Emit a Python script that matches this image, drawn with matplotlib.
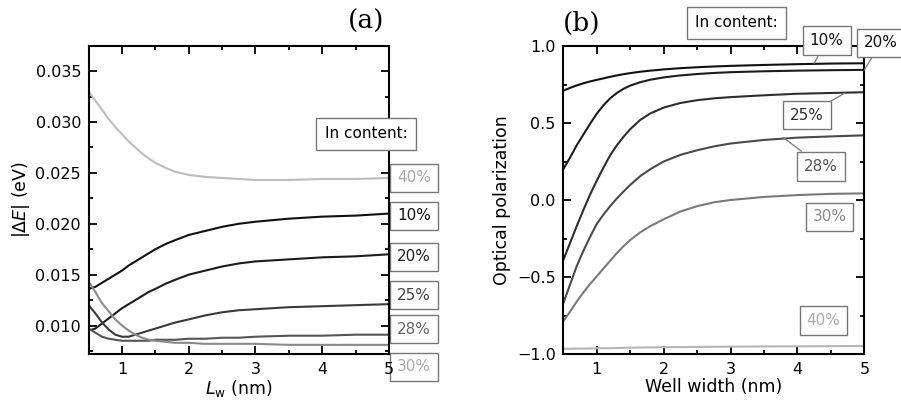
import matplotlib
matplotlib.use('Agg')
import matplotlib.pyplot as plt
from matplotlib.ticker import MultipleLocator

plt.rcParams['font.family'] = ['DejaVu Sans']
plt.rcParams['mathtext.fontset'] = 'dejavusans'

# well width grid (nm), shared by both panels
well_width = [0.5, 0.6, 0.7, 0.8, 0.9, 1.0, 1.1, 1.2, 1.3, 1.4, 1.5, 1.65, 1.8, 2.0,
              2.25, 2.5, 2.75, 3.0, 3.5, 4.0, 4.5, 5.0]

# (a) |dE| (eV), one list per In content
de_10 = [0.0136, 0.0138, 0.0142, 0.0146, 0.0150, 0.0154, 0.0159, 0.0163, 0.0167, 0.0171, 0.0175,
         0.0180, 0.0184, 0.0189, 0.0193, 0.0197, 0.0200, 0.0202, 0.0205, 0.0207, 0.0208, 0.0210]
de_20 = [0.0095, 0.0097, 0.0102, 0.0107, 0.0112, 0.0117, 0.0121, 0.0125, 0.0129, 0.0133, 0.0136,
         0.0141, 0.0145, 0.0150, 0.0154, 0.0158, 0.0161, 0.0163, 0.0165, 0.0167, 0.0168, 0.0170]
de_25 = [0.0120, 0.0112, 0.0103, 0.0096, 0.0091, 0.0089, 0.0089, 0.0091, 0.0093, 0.0095, 0.0097,
         0.0100, 0.0103, 0.0106, 0.0110, 0.0113, 0.0115, 0.0116, 0.0118, 0.0119, 0.0120, 0.0121]
de_28 = [0.0097, 0.0093, 0.0089, 0.0087, 0.0086, 0.0085, 0.0085, 0.0085, 0.0085, 0.0085, 0.0086,
         0.0086, 0.0086, 0.0087, 0.0087, 0.0088, 0.0088, 0.0089, 0.0090, 0.0090, 0.0091, 0.0091]
de_30 = [0.0143, 0.0133, 0.0122, 0.0114, 0.0106, 0.0100, 0.0095, 0.0091, 0.0088, 0.0086, 0.0085,
         0.0084, 0.0083, 0.0083, 0.0082, 0.0082, 0.0082, 0.0082, 0.0081, 0.0081, 0.0081, 0.0081]
de_40 = [0.0330, 0.0321, 0.0312, 0.0303, 0.0295, 0.0288, 0.0281, 0.0275, 0.0269, 0.0264, 0.0260,
         0.0255, 0.0251, 0.0248, 0.0246, 0.0245, 0.0244, 0.0243, 0.0243, 0.0244, 0.0244, 0.0245]

# (b) optical polarization
pol_10 = [0.710, 0.728, 0.744, 0.758, 0.770, 0.780, 0.790, 0.800, 0.809, 0.817, 0.824,
          0.833, 0.840, 0.848, 0.856, 0.862, 0.867, 0.871, 0.877, 0.882, 0.886, 0.888]
pol_20 = [0.200, 0.275, 0.355, 0.425, 0.495, 0.560, 0.615, 0.660, 0.695, 0.722, 0.743,
          0.765, 0.781, 0.796, 0.809, 0.818, 0.825, 0.830, 0.836, 0.840, 0.843, 0.845]
pol_25 = [-0.390, -0.280, -0.170, -0.065, 0.035, 0.125, 0.210, 0.290, 0.355, 0.410, 0.460,
          0.520, 0.562, 0.600, 0.630, 0.648, 0.660, 0.668, 0.680, 0.690, 0.695, 0.700]
pol_28 = [-0.670, -0.550, -0.430, -0.330, -0.240, -0.155, -0.095, -0.040, 0.010, 0.055, 0.098,
          0.155, 0.200, 0.250, 0.293, 0.323, 0.348, 0.367, 0.390, 0.405, 0.413, 0.420]
pol_30 = [-0.787, -0.725, -0.660, -0.600, -0.545, -0.496, -0.445, -0.395, -0.345, -0.300, -0.260,
          -0.210, -0.170, -0.125, -0.075, -0.040, -0.015, 0.000, 0.020, 0.032, 0.040, 0.043]
pol_40 = [-0.966, -0.966, -0.965, -0.965, -0.964, -0.963, -0.962, -0.962, -0.961, -0.960, -0.959,
          -0.958, -0.957, -0.956, -0.955, -0.954, -0.953, -0.952, -0.951, -0.950, -0.949, -0.948]

labels = ['10%', '20%', '25%', '28%', '30%', '40%']
colors_a = ['#111111', '#1c1c1c', '#3a3a3a', '#555555', '#8a8a8a', '#bdbdbd']
colors_b = ['#111111', '#1c1c1c', '#2e2e2e', '#4a4a4a', '#7a7a7a', '#b5b5b5']
text_a = ['#111111', '#222222', '#444444', '#666666', '#aaaaaa', '#aaaaaa']
text_b = ['#111111', '#111111', '#333333', '#555555', '#888888', '#aaaaaa']

box = dict(boxstyle='square,pad=0.45', fc='white', ec='#777777', lw=1.0)
head_box = dict(boxstyle='square,pad=0.55', fc='white', ec='#777777', lw=1.0)

fig = plt.figure(figsize=(9.01, 4.05), dpi=100)
ax1 = fig.add_axes([0.0984, 0.1259, 0.3333, 0.7613])
ax2 = fig.add_axes([0.6252, 0.1259, 0.3341, 0.7605])


def style(ax):
    for s in ax.spines.values():
        s.set_linewidth(1.5)
    ax.tick_params(which='both', direction='in', top=True, right=True, width=1.3,
                   labelsize=11.5, pad=5.5)
    ax.tick_params(which='major', length=6)
    ax.tick_params(which='minor', length=3)
    ax.xaxis.set_major_locator(MultipleLocator(1))
    ax.xaxis.set_minor_locator(MultipleLocator(0.5))


# panel (a)
for ys, c in zip([de_10, de_20, de_25, de_28, de_30, de_40], colors_a):
    ax1.plot(well_width, ys, color=c, lw=1.5)
ax1.set_xlim(0.5, 5)
ax1.set_ylim(0.0072, 0.0375)
style(ax1)
ax1.yaxis.set_minor_locator(MultipleLocator(0.0025))
ax1.set_yticks([0.010, 0.015, 0.020, 0.025, 0.030, 0.035])
ax1.set_ylabel(r'|$\Delta\mathit{E}$| (eV)', fontsize=12.5, labelpad=2)
ax1.set_xlabel(r'$\mathit{L}_{\mathrm{w}}$ (nm)', fontsize=12.5, labelpad=1)
ax1.text(0.924, 0.714, 'In content:', transform=ax1.transAxes, ha='center', va='center',
         fontsize=11, bbox=head_box)
ya = {'40%': 0.571, '10%': 0.448, '20%': 0.315, '25%': 0.191, '28%': 0.081, '30%': -0.042}
for lab, tc in zip(labels, text_a):
    # below the axis artists so the "5" tick label stays visible
    ax1.text(1.084, ya[lab], lab, transform=ax1.transAxes, ha='center', va='center',
             fontsize=11, color=tc, bbox=box, clip_on=False, zorder=1.2)
fig.text(0.406, 0.948, '(a)', family='DejaVu Serif', fontsize=19, ha='center', va='center')

# panel (b)
for ys, c in zip([pol_10, pol_20, pol_25, pol_28, pol_30, pol_40], colors_b):
    ax2.plot(well_width, ys, color=c, lw=1.5)
ax2.set_xlim(0.5, 5)
ax2.set_ylim(-1.0, 1.0)
style(ax2)
ax2.yaxis.set_major_locator(MultipleLocator(0.5))
ax2.yaxis.set_minor_locator(MultipleLocator(0.25))
ax2.set_ylabel('Optical polarization', fontsize=12.5, labelpad=4)
ax2.set_xlabel('Well width (nm)', fontsize=12.5, labelpad=1)
ax2.text(0.576, 1.075, 'In content:', transform=ax2.transAxes, ha='center', va='center',
         fontsize=11, bbox=head_box)

lead = dict(arrowstyle='-', color='#777777', lw=0.9, shrinkA=0, shrinkB=0)
ax2.annotate('10%', xy=(4.25, 0.887), xytext=(0.875, 1.019), textcoords='axes fraction',
             ha='center', va='center', fontsize=11, color=text_b[0], bbox=box, arrowprops=lead,
             annotation_clip=False)
ax2.annotate('20%', xy=(5.0, 0.845), xytext=(1.055, 1.010), textcoords='axes fraction',
             ha='center', va='center', fontsize=11, color=text_b[1], bbox=box, arrowprops=lead,
             annotation_clip=False)
ax2.annotate('25%', xy=(4.71, 0.695), xytext=(0.810, 0.776), textcoords='axes fraction',
             ha='center', va='center', fontsize=11, color=text_b[2], bbox=box, arrowprops=lead)
ax2.annotate('28%', xy=(3.79, 0.405), xytext=(0.857, 0.610), textcoords='axes fraction',
             ha='center', va='center', fontsize=11, color=text_b[3], bbox=box, arrowprops=lead)
ax2.text(0.884, 0.445, '30%', transform=ax2.transAxes, ha='center', va='center',
         fontsize=11, color=text_b[4], bbox=box)
ax2.text(0.864, 0.110, '40%', transform=ax2.transAxes, ha='center', va='center',
         fontsize=11, color=text_b[5], bbox=box)
fig.text(0.646, 0.943, '(b)', family='DejaVu Serif', fontsize=19, ha='center', va='center')

fig.savefig('out.png', dpi=100)
